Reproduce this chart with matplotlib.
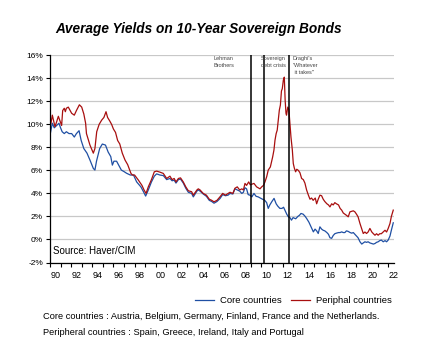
import matplotlib
matplotlib.use("Agg")
import matplotlib.pyplot as plt
from matplotlib.ticker import FixedLocator, FuncFormatter

plt.rcParams['font.family'] = ['Liberation Sans', 'DejaVu Sans']

# Peripheral countries (red): decimal year, yield %
per_years = [1990.05, 1990.09, 1990.22, 1990.35, 1990.47, 1990.62, 1990.79, 1990.95,
             1991.1, 1991.2, 1991.35, 1991.45, 1991.55, 1991.73, 1992.05, 1992.3,
             1992.5, 1992.78, 1993.0, 1993.2, 1993.37, 1993.45, 1993.78, 1994.1,
             1994.25, 1994.42, 1994.65, 1994.89, 1995.1, 1995.3, 1995.45, 1995.65,
             1995.83, 1996.0, 1996.2, 1996.4, 1996.6, 1996.84, 1997.1, 1997.35,
             1997.66, 1997.8, 1998.0, 1998.36, 1998.7, 1998.9, 1999.09, 1999.3,
             1999.6, 1999.87, 2000.09, 2000.4, 2000.72, 2001.04, 2001.35, 2001.55,
             2001.75, 2001.92, 2002.15, 2002.35, 2002.61, 2002.85, 2003.09, 2003.4,
             2003.56, 2003.9, 2004.03, 2004.2, 2004.5, 2004.8, 2005.07, 2005.3,
             2005.52, 2005.8, 2006.08, 2006.34, 2006.6, 2006.85, 2007.03, 2007.3,
             2007.5, 2007.72, 2007.95, 2008.15, 2008.3, 2008.45, 2008.6, 2008.8,
             2008.95, 2009.3, 2009.55, 2009.87, 2010.03, 2010.2, 2010.34, 2010.5,
             2010.65, 2010.85, 2011.07, 2011.19, 2011.29, 2011.4, 2011.5, 2011.6,
             2011.7, 2011.8, 2011.9, 2011.98, 2012.08, 2012.17, 2012.25, 2012.33,
             2012.38, 2012.5, 2012.6, 2012.7, 2012.8, 2012.93, 2013.02, 2013.12,
             2013.24, 2013.35, 2013.5, 2013.65, 2013.81, 2013.97, 2014.12, 2014.28,
             2014.45, 2014.6, 2014.75, 2014.9, 2015.1, 2015.23, 2015.38, 2015.54,
             2015.7, 2015.85, 2016.0, 2016.2, 2016.35, 2016.49, 2016.65, 2016.8,
             2016.95, 2017.1, 2017.3, 2017.45, 2017.6, 2017.75, 2017.9, 2018.05,
             2018.22, 2018.38, 2018.55, 2018.7, 2018.85, 2019.0, 2019.15, 2019.33,
             2019.5, 2019.64, 2019.8, 2019.95, 2020.1, 2020.27, 2020.45, 2020.6,
             2020.75, 2020.9, 2021.05, 2021.2, 2021.35, 2021.53, 2021.7, 2021.85,
             2022.0, 2022.17, 2022.3, 2022.48]
per_vals = [10.0, 10.1, 10.8, 10.3, 9.8, 10.2, 10.7, 10.3,
            9.9, 11.2, 11.4, 11.1, 11.4, 11.5, 10.96, 10.8,
            11.2, 11.7, 11.5, 10.9, 10.1, 9.2, 8.2, 7.5,
            7.9, 9.36, 10.0, 10.37, 10.6, 11.1, 10.6, 10.3,
            10.0, 9.6, 9.3, 8.6, 8.3, 7.5, 6.9, 6.5,
            5.74, 5.6, 5.6, 5.16, 4.7, 4.3, 4.0, 4.57,
            5.2, 5.88, 5.94, 5.85, 5.74, 5.3, 5.5, 5.2,
            5.3, 5.0, 5.3, 5.35, 5.0, 4.57, 4.23, 4.15,
            3.85, 4.3, 4.4, 4.3, 4.0, 3.85, 3.5, 3.4,
            3.27, 3.4, 3.7, 4.0, 3.85, 4.0, 4.1, 4.0,
            4.45, 4.57, 4.3, 4.4, 4.3, 4.87, 4.7, 5.0,
            4.75, 4.87, 4.57, 4.4, 4.57, 4.7, 5.0, 5.44,
            6.03, 6.3, 7.18, 7.77, 8.63, 9.2, 9.5, 10.37,
            11.24, 11.68, 12.9, 13.1, 13.85, 14.1, 12.1, 10.96,
            10.8, 11.5, 11.3, 10.1, 8.9, 7.77, 6.6, 6.2,
            5.88, 6.1, 6.0, 5.8, 5.3, 5.2, 4.9, 4.3,
            3.85, 3.5, 3.6, 3.4, 3.6, 3.1, 3.5, 3.85,
            3.8, 3.5, 3.3, 3.1, 3.0, 2.83, 3.1, 3.0,
            3.2, 3.1, 3.0, 2.7, 2.55, 2.3, 2.2, 2.1,
            1.97, 2.4, 2.45, 2.49, 2.4, 2.2, 1.97, 1.39,
            0.9, 0.52, 0.65, 0.52, 0.65, 0.96, 0.65, 0.5,
            0.37, 0.5, 0.37, 0.5, 0.5, 0.65, 0.8, 0.65,
            0.96, 1.39, 2.0, 2.55]

# Core countries (blue)
core_years = [1990.05, 1990.22, 1990.4, 1990.62, 1990.85, 1991.0, 1991.15, 1991.35,
              1991.55, 1991.8, 1992.05, 1992.3, 1992.5, 1992.75, 1992.95, 1993.2,
              1993.5, 1993.78, 1994.1, 1994.25, 1994.4, 1994.7, 1994.95, 1995.25,
              1995.5, 1995.75, 1995.9, 1996.05, 1996.3, 1996.5, 1996.75, 1997.0,
              1997.25, 1997.6, 1997.9, 1998.2, 1998.6, 1998.85, 1999.05, 1999.3,
              1999.6, 1999.87, 2000.09, 2000.4, 2000.72, 2001.04, 2001.35, 2001.55,
              2001.75, 2001.92, 2002.15, 2002.35, 2002.61, 2002.85, 2003.09, 2003.4,
              2003.56, 2003.9, 2004.03, 2004.2, 2004.5, 2004.8, 2005.07, 2005.3,
              2005.52, 2005.8, 2006.08, 2006.34, 2006.6, 2006.85, 2007.03, 2007.3,
              2007.5, 2007.72, 2007.95, 2008.15, 2008.3, 2008.45, 2008.6, 2008.75,
              2008.92, 2009.1, 2009.3, 2009.5, 2009.7, 2009.9, 2010.1, 2010.3,
              2010.5, 2010.65, 2010.8, 2011.0, 2011.2, 2011.4, 2011.55, 2011.75,
              2011.95, 2012.1, 2012.25, 2012.4, 2012.55, 2012.7, 2012.85, 2013.0,
              2013.25, 2013.45, 2013.6, 2013.75, 2013.95, 2014.15, 2014.3, 2014.5,
              2014.7, 2014.92, 2015.08, 2015.23, 2015.38, 2015.54, 2015.7, 2015.85,
              2016.0, 2016.2, 2016.35, 2016.49, 2016.65, 2016.8, 2016.95, 2017.1,
              2017.3, 2017.45, 2017.6, 2017.75, 2017.9, 2018.05, 2018.22, 2018.4,
              2018.55, 2018.7, 2018.85, 2019.0, 2019.15, 2019.33, 2019.5, 2019.64,
              2019.8, 2019.95, 2020.1, 2020.27, 2020.45, 2020.6, 2020.75, 2020.9,
              2021.05, 2021.2, 2021.35, 2021.53, 2021.7, 2021.85, 2022.0, 2022.17,
              2022.3, 2022.48]
core_vals = [9.3, 10.1, 9.7, 9.9, 10.1, 9.7, 9.36, 9.2,
             9.36, 9.2, 9.2, 8.9, 9.2, 9.45, 8.6, 7.9,
             7.5, 6.9, 6.17, 6.03, 6.8, 7.9, 8.29, 8.2,
             7.6, 7.2, 6.46, 6.8, 6.8, 6.46, 6.03, 5.9,
             5.75, 5.6, 5.6, 5.0, 4.57, 4.14, 3.77, 4.3,
             5.0, 5.5, 5.7, 5.6, 5.55, 5.2, 5.3, 5.1,
             5.15, 4.9, 5.2, 5.25, 4.9, 4.45, 4.1, 4.0,
             3.7, 4.2, 4.3, 4.2, 3.95, 3.75, 3.4, 3.3,
             3.15, 3.3, 3.55, 3.9, 3.8, 3.85, 4.0, 3.95,
             4.4, 4.3, 4.2, 4.0, 4.1, 4.5, 4.4, 3.9,
             3.85, 3.7, 4.0, 3.75, 3.7, 3.6, 3.5, 3.42,
             3.2, 2.7, 3.0, 3.3, 3.57, 3.1, 2.9, 2.7,
             2.7, 2.8, 2.5, 2.2, 1.97, 1.9, 1.68, 1.9,
             1.8, 2.0, 2.1, 2.26, 2.2, 2.0, 1.8, 1.5,
             1.1, 0.66, 0.9, 0.75, 0.52, 1.1, 0.9, 0.8,
             0.75, 0.6, 0.45, 0.15, 0.1, 0.35, 0.5, 0.55,
             0.6, 0.6, 0.66, 0.6, 0.6, 0.75, 0.7, 0.6,
             0.55, 0.6, 0.45, 0.3, 0.15, -0.2, -0.4, -0.3,
             -0.2, -0.25, -0.2, -0.3, -0.35, -0.4, -0.35, -0.25,
             -0.2, -0.1, -0.05, -0.2, -0.1, -0.2, -0.05, 0.3,
             0.8, 1.45]

events = [2008.99, 2010.27, 2012.64]
event_labels = ["Lehman\nBrothers", "Sovereign\ndebt crisis", "Draghi's\n\"Whatever\n it takes\""]

blue = "#1f4fa3"
red = "#a80f0f"

fig = plt.figure(figsize=(4.22, 3.56), dpi=100)
ax = fig.add_axes([50 / 422, 93.5 / 356, 344 / 422, 207.2 / 356])

ax.plot(core_years, core_vals, color=blue, lw=0.9, label="Core countries")
ax.plot(per_years, per_vals, color=red, lw=0.9, label="Periphal countries")

for ev in events:
    ax.axvline(ev, color="black", lw=1.1, zorder=3)

ax.set_xlim(1990, 2022.55)
ax.set_ylim(-2, 16)

ax.yaxis.set_major_locator(FixedLocator(range(-2, 17, 2)))
ax.yaxis.set_major_formatter(FuncFormatter(lambda v, p: f"{int(v)}%"))
ax.grid(axis="y", color="#c8c8c8", lw=0.9)
ax.set_axisbelow(True)

ax.xaxis.set_major_locator(FixedLocator([y + 0.5 for y in range(1990, 2023, 2)]))
ax.xaxis.set_major_formatter(FuncFormatter(lambda v, p: f"{int(v) % 100:02d}"))
ax.xaxis.set_minor_locator(FixedLocator(range(1990, 2023)))
ax.tick_params(axis="x", which="major", length=0, pad=6, labelsize=6.5)
ax.tick_params(axis="x", which="minor", length=3, width=0.8, direction="out")
ax.tick_params(axis="y", length=3, width=0.8, pad=2, labelsize=6)

for s in ["top", "right"]:
    ax.spines[s].set_visible(False)
for s in ["left", "bottom"]:
    ax.spines[s].set_linewidth(0.9)

# event annotations
ann_x = [214, 261, 292.7]
for lab, px in zip(event_labels, ann_x):
    fig.text(px / 422, 1 - 56 / 356, lab, fontsize=4, color="#444444",
             va="top", ha="left", linespacing=1.5)

ax.text(1990.3, -1.0, "Source: Haver/CIM", fontsize=7, va="center", ha="left")

fig.text(199 / 422, 1 - 29 / 356, "Average Yields on 10-Year Sovereign Bonds",
         fontsize=9.8, fontweight="bold", fontstyle="italic", ha="center", va="center")

fig.legend(loc="center", bbox_to_anchor=(293.5 / 422, 1 - 300.7 / 356), ncol=2,
           frameon=False, fontsize=6.8, handlelength=2.0, columnspacing=1.0,
           handletextpad=0.6)

fig.text(43 / 422, 1 - 316.7 / 356,
         "Core countries : Austria, Belgium, Germany, Finland, France and the Netherlands.",
         fontsize=6.7, va="center", ha="left")
fig.text(43 / 422, 1 - 332.3 / 356,
         "Peripheral countries : Spain, Greece, Ireland, Italy and Portugal",
         fontsize=6.7, va="center", ha="left")

fig.savefig("out.png", dpi=100)
